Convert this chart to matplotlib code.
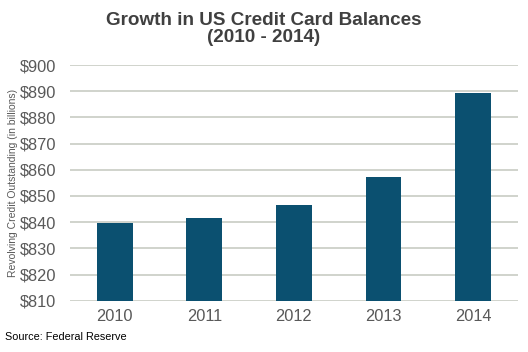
import matplotlib.pyplot as plt
from matplotlib.ticker import FuncFormatter

plt.rcParams['font.family'] = ['Liberation Sans', 'DejaVu Sans']

years = ['2010', '2011', '2012', '2013', '2014']
balances = [839.8, 841.6, 846.7, 857.3, 889.4]

fig = plt.figure(figsize=(5.28, 3.52), dpi=100)
ax = fig.add_axes([0.1326, 0.1457, 0.848, 0.6696])

ax.bar(years, balances, width=0.4, color='#0b5070', zorder=3)
ax.set_ylim(810, 900)
ax.set_xlim(-0.5, 4.5)
ax.set_yticks(range(810, 901, 10))
ax.yaxis.set_major_formatter(FuncFormatter(lambda v, p: '$%d' % v))
ax.grid(axis='y', color='#c8ccc4', linewidth=1.2, zorder=0)
for s in ax.spines.values():
    s.set_visible(False)
ax.tick_params(length=0, labelsize=11.8, colors='#595959', pad=6)
ax.tick_params(axis='y', pad=10)

ax.set_ylabel('Revolving Credit Outstanding (in billions)', fontsize=7.5, color='#595959')
ax.yaxis.set_label_coords(-0.117, 0.5)

fig.text(0.5, 0.965, 'Growth in US Credit Card Balances\n(2010 - 2014)', ha='center', va='top',
         fontsize=13.6, fontweight='bold', color='#404040', linespacing=1.0)
fig.text(0.01, 0.035, 'Source: Federal Reserve', fontsize=7.8, color='#000000')

fig.savefig('out.png')
